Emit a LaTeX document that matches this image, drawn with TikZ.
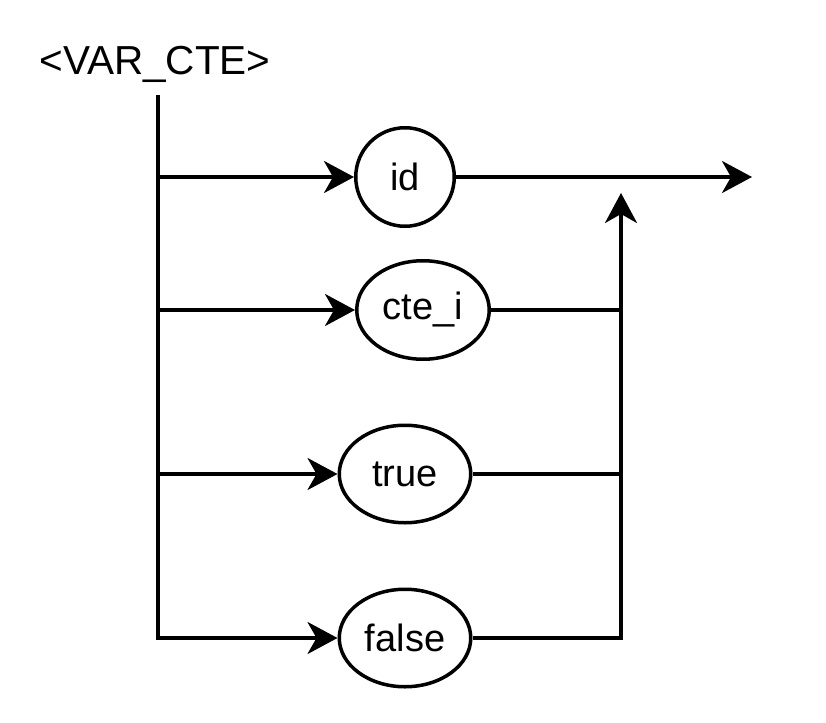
\documentclass[tikz,border=0pt]{standalone}
\usepackage{fontspec}
\setmainfont{Liberation Sans}
\usetikzlibrary{arrows.meta,shapes.geometric}
\tikzset{
  term/.style={draw, ellipse, line width=3.5pt, inner sep=0pt, font=\fontsize{38}{46}\selectfont},
  conn/.style={line width=3.5pt},
  arr/.style={-{Stealth[length=30pt,width=32pt,inset=9pt]}}
}
\begin{document}
\begin{tikzpicture}[x=1pt,y=-1pt]
\useasboundingbox (0,0) rectangle (826,722);
\node[anchor=base, font=\fontsize{40.5}{48}\selectfont, inner sep=0pt] (title) at (155,75) {<VAR\_CTE>};
\node[term, minimum width=98.5pt, minimum height=98.5pt] (id) at (405,177) {id};
\node[term, minimum width=132.5pt, minimum height=98.5pt] (cte) at (423,310) {cte\_i};
\node[term, minimum width=131.5pt, minimum height=97.5pt] (true) at (405,474) {true};
\node[term, minimum width=131.5pt, minimum height=97.5pt] (false) at (405,638) {false};
\coordinate (start) at (158,95);
\coordinate (bid) at (158,177);
\coordinate (bcte) at (158,310);
\coordinate (btrue) at (158,474);
\coordinate (up) at (621,193);
\coordinate (jcte) at (621,310);
\coordinate (jtrue) at (621,474);
\coordinate (out) at (752,177);
\draw[conn,arr] (start) |- (false.west);
\draw[conn,arr] (bid) -- (id.west);
\draw[conn,arr] (bcte) -- (cte.west);
\draw[conn,arr] (btrue) -- (true.west);
\draw[conn,arr] (false.east) -| (up);
\draw[conn] (cte.east) -- (jcte);
\draw[conn] (true.east) -- (jtrue);
\draw[conn,arr] (id.east) -- (out);
\end{tikzpicture}
\end{document}
